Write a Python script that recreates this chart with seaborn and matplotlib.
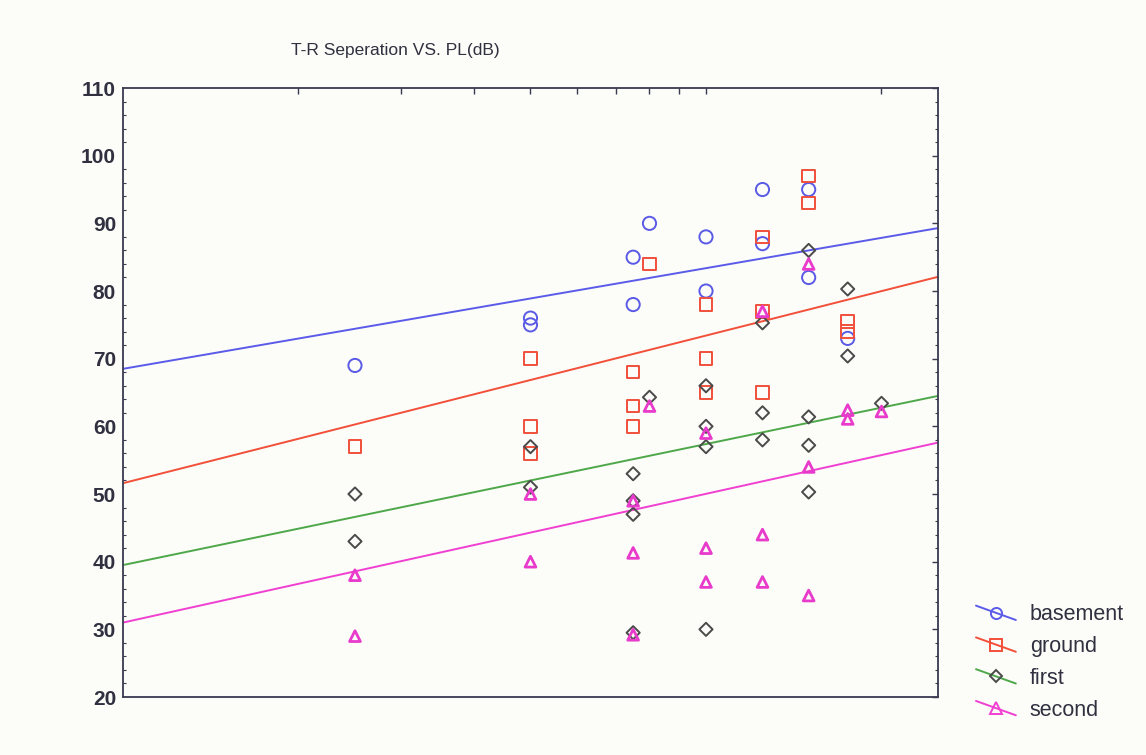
"""
T-R separation vs. path loss, one series per floor.
"""

# imports
import numpy as np
import pandas as pd
import seaborn as sns
import matplotlib.pyplot as plt
from matplotlib.lines import Line2D
from matplotlib.legend_handler import HandlerLine2D
from matplotlib.ticker import MultipleLocator, FixedLocator, NullFormatter, NullLocator

# data (x = T-R separation, log axis; y = PL in dB)
floors = ['basement', 'ground', 'first', 'second']

basement_x = [2.5, 5, 5, 7.5, 7.5, 8, 10, 10, 12.5, 12.5, 15, 15, 17.5]
basement_pl = [69, 76, 75, 85, 78, 90, 88, 80, 95, 87, 95, 82, 73]

ground_x = [2.5, 5, 5, 5, 7.5, 7.5, 7.5, 8, 10, 10, 10, 12.5, 12.5, 12.5,
            15, 15, 17.5, 17.5]
ground_pl = [57, 70, 60, 56, 68, 63, 60, 84, 78, 70, 65, 88, 77, 65,
             97, 93, 75.5, 74]

first_x = [2.5, 2.5, 5, 5, 7.5, 7.5, 7.5, 7.5, 8, 10, 10, 10, 10,
           12.5, 12.5, 12.5, 15, 15, 15, 15, 17.5, 17.5, 20]
first_pl = [50, 43, 57, 51, 53, 49, 47, 29.5, 64.3, 66, 60, 57, 30,
            75.3, 62, 58, 86, 61.4, 57.2, 50.3, 80.3, 70.4, 63.4]

second_x = [2.5, 2.5, 5, 5, 7.5, 7.5, 7.5, 8, 10, 10, 10, 12.5, 12.5, 12.5,
            15, 15, 15, 17.5, 17.5, 20]
second_pl = [38, 29, 50, 40, 49, 41.3, 29.2, 63, 59, 42, 37, 77, 44, 37,
             84, 54, 35, 62.4, 61.1, 62.2]

# trend lines as drawn: value at the left and right ends of the x range
trend_x = [1, 25]
basement_trend = [68.5, 89.3]
ground_trend = [51.6, 82.1]
first_trend = [39.5, 64.5]
second_trend = [31.0, 57.6]

# styles
line_colors = ['#5b5bea', '#f2503a', '#4ea84a', '#f040d2']
marker_colors = ['#5a5ae6', '#f0503c', '#4a4a4a', '#e83acb']
markers = ['o', 's', 'D', '^']
sizes = [90, 80, 45, 60]
text_color = '#303040'


class SlantHandler(HandlerLine2D):
    """legend handle with the line drawn on a slant"""
    def create_artists(self, legend, orig_handle, xdescent, ydescent,
                       width, height, fontsize, trans):
        artists = super().create_artists(legend, orig_handle, xdescent,
                                         ydescent, width, height,
                                         fontsize, trans)
        for a in artists:
            xd = np.asarray(a.get_xdata(), dtype=float)
            if len(xd) > 1:
                c = (height - ydescent) / 2
                d = 0.18 * width
                a.set_ydata(c + d - 2 * d * (xd - xd[0]) / (xd[-1] - xd[0]))
        return artists


# build one long table
frames = []
for name, xs, ys in zip(floors, [basement_x, ground_x, first_x, second_x],
                        [basement_pl, ground_pl, first_pl, second_pl]):
    frames.append(pd.DataFrame({'sep': xs, 'pl': ys, 'floor': name}))
df = pd.concat(frames, ignore_index=True)

trends = [basement_trend, ground_trend, first_trend, second_trend]

sns.set_style('white')
plt.rcParams['font.family'] = ['Liberation Sans', 'DejaVu Sans']

bg = '#fcfcf8'
fig = plt.figure(figsize=(11.46, 7.55), dpi=100, facecolor=bg)
ax = fig.add_axes([0.1073, 0.0768, 0.7112, 0.8066], facecolor=bg)
ax.set_xscale('log')
ax.set_xlim(1, 25)
ax.set_ylim(20, 110)

# trend lines first so markers sit on top
for name, tr, lc in zip(floors, trends, line_colors):
    sns.lineplot(x=trend_x, y=tr, color=lc, linewidth=1.4, ax=ax, zorder=2)

for name, mk, mc, sz in zip(floors, markers, marker_colors, sizes):
    sub = df[df['floor'] == name]
    lw = 2.0 if mk == '^' else 1.4
    sns.regplot(data=sub, x='sep', y='pl', fit_reg=False, marker=mk,
                color=mc, ax=ax,
                scatter_kws=dict(facecolors='none', edgecolors=mc, s=sz,
                                 linewidths=lw, alpha=1, zorder=3))

ax.set_xlabel('')
ax.set_ylabel('')

# ticks
ax.xaxis.set_major_locator(FixedLocator([2, 3, 4, 5, 6, 7, 8, 9, 10, 20]))
ax.xaxis.set_minor_locator(NullLocator())
ax.xaxis.set_major_formatter(NullFormatter())
ax.xaxis.set_minor_formatter(NullFormatter())
ax.yaxis.set_major_locator(MultipleLocator(10))
ax.yaxis.set_minor_locator(MultipleLocator(2))
ax.tick_params(axis='both', which='major', direction='in', length=4,
               width=1, color='#3a3a50', top=True, right=True)
ax.tick_params(axis='y', which='minor', direction='in', length=2.5,
               width=0.8, color='#3a3a50', left=True, right=True)
ax.tick_params(axis='y', which='major', labelsize=15, pad=5,
               labelcolor=text_color)
for lab in ax.get_yticklabels():
    lab.set_fontweight('bold')
for sp in ax.spines.values():
    sp.set_color('#3a3a50')
    sp.set_linewidth(1.3)

fig.text(395 / 1146, 1 - 50 / 755, 'T-R Seperation VS. PL(dB)',
         ha='center', va='center', fontsize=12.5, color=text_color)

handles = [Line2D([], [], color=lc, marker=mk, markerfacecolor='none',
                  markeredgecolor=lc if mk != 'D' else '#4a4a4a',
                  markersize=8 if mk != 'D' else 6.5,
                  markeredgewidth=1.4, linewidth=1.4)
           for lc, mk in zip(line_colors, markers)]
fig.legend(handles, floors, loc='center left',
           bbox_to_anchor=(976 / 1146, 1 - 662.5 / 755), frameon=False,
           fontsize=15.5, handlelength=1.85, handletextpad=0.65,
           labelspacing=0.5, borderpad=0, borderaxespad=0,
           labelcolor=text_color, handler_map={Line2D: SlantHandler()})

fig.savefig('out.png', dpi=100, facecolor=bg)
